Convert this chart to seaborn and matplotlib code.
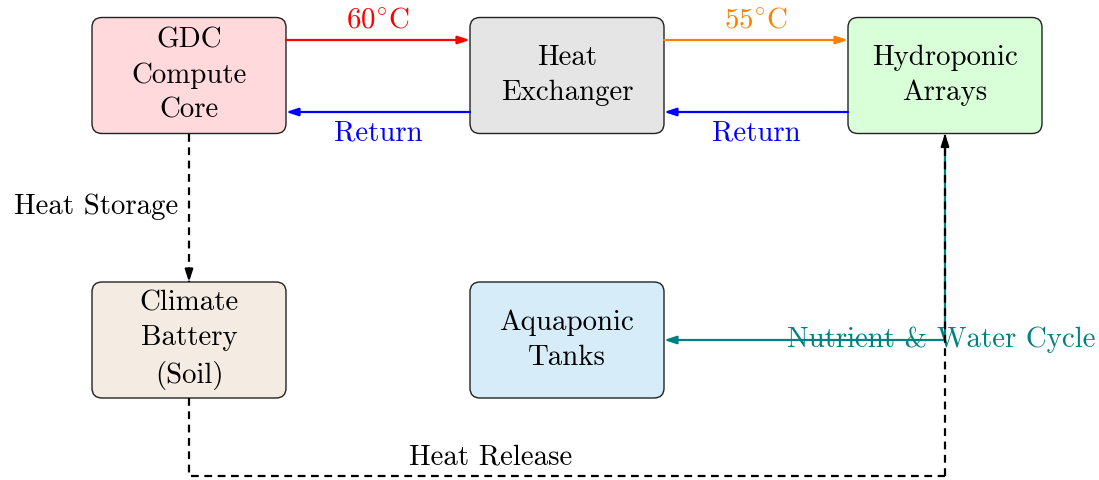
import matplotlib.pyplot as plt
import seaborn as sns
from matplotlib.patches import FancyBboxPatch

# node data
node_labels = ['GDC\nCompute\nCore', 'Heat\nExchanger', 'Hydroponic\nArrays',
               'Climate\nBattery\n(Soil)', 'Aquaponic\nTanks']
node_colors = ['#ffd9db', '#e5e5e5', '#d9ffd9', '#f4ece2', '#d6ecf8']

# edge labels
flow_labels = ['60$^{\\circ}$C', '55$^{\\circ}$C', 'Return', 'Return',
               'Heat Storage', 'Heat Release', 'Nutrient & Water Cycle']
flow_colors = ['#ff0000', '#ff8000', '#0000ff', '#0000ff', 'black', 'black', '#008080']

# layout (pixel coordinates, y down)
node_x = [189, 567, 945, 189, 567]
node_y = [75.5, 75.5, 75.5, 340, 340]
box_w, box_h = 194, 116

sns.set_theme(style='white')
plt.rcParams['font.family'] = ['cmr10', 'DejaVu Serif']
plt.rcParams['mathtext.fontset'] = 'cm'
plt.rcParams['axes.formatter.use_mathtext'] = True
plt.rcParams['text.color'] = 'black'

fig = plt.figure(figsize=(10.99, 4.80), dpi=100)
ax = fig.add_axes([0, 0, 1, 1])
ax.set_xlim(0, 1099)
ax.set_ylim(480, 0)
ax.axis('off')

fs = 20.8

for label, color, cx, cy in zip(node_labels, node_colors, node_x, node_y):
    box = FancyBboxPatch((cx - box_w / 2, cy - box_h / 2), box_w, box_h,
                         boxstyle='round,pad=0,rounding_size=10',
                         fc=color, ec='#222222', lw=1.0, zorder=2)
    ax.add_patch(box)
    ax.text(cx, cy, label, ha='center', va='center', fontsize=fs,
            linespacing=1.42, zorder=3)


def arrow(p0, p1, color, ls='-'):
    if ls == '-':
        ax.annotate('', xy=p1, xytext=p0, zorder=5,
                    arrowprops=dict(arrowstyle='-|>,head_length=0.55,head_width=0.18',
                                    color=color, lw=1.6, shrinkA=0, shrinkB=0,
                                    mutation_scale=13))
    else:
        ax.plot([p0[0], p1[0]], [p0[1], p1[1]], color=color, lw=1.6,
                ls=(0, (3.5, 2.5)), zorder=5, solid_capstyle='butt')
        dx = p1[0] - p0[0]
        dy = p1[1] - p0[1]
        n = (dx ** 2 + dy ** 2) ** 0.5
        start = (p1[0] - dx / n * 10, p1[1] - dy / n * 10)
        arrow(start, p1, color)


left = [x - box_w / 2 for x in node_x]
right = [x + box_w / 2 for x in node_x]
top = [y - box_h / 2 for y in node_y]
bottom = [y + box_h / 2 for y in node_y]

# hot supply lines
arrow((right[0], 40), (left[1], 40), flow_colors[0])
arrow((right[1], 40), (left[2], 40), flow_colors[1])
ax.text((right[0] + left[1]) / 2, 20, flow_labels[0], color=flow_colors[0],
        ha='center', va='center', fontsize=fs)
ax.text((right[1] + left[2]) / 2, 20, flow_labels[1], color=flow_colors[1],
        ha='center', va='center', fontsize=fs)

# return lines
arrow((left[1], 112), (right[0], 112), flow_colors[2])
arrow((left[2], 112), (right[1], 112), flow_colors[3])
ax.text((right[0] + left[1]) / 2, 133, flow_labels[2], color=flow_colors[2],
        ha='center', va='center', fontsize=fs)
ax.text((right[1] + left[2]) / 2, 133, flow_labels[3], color=flow_colors[3],
        ha='center', va='center', fontsize=fs)

# nutrient cycle (teal)
ax.plot([node_x[2], node_x[2]], [node_y[4], bottom[2] + 8], color=flow_colors[6],
        lw=1.6, zorder=4)
arrow((node_x[2], node_y[4]), (right[4], node_y[4]), flow_colors[6])
ax.text(941, node_y[4], flow_labels[6], color=flow_colors[6], ha='center',
        va='center', fontsize=fs, zorder=1)

# heat storage (dashed)
arrow((node_x[0], bottom[0]), (node_x[0], top[3]), flow_colors[4], ls='--')
ax.text(178, 207, flow_labels[4], ha='right', va='center', fontsize=fs)

# heat release (dashed, routed below)
ax.plot([node_x[3], node_x[3], node_x[2]], [bottom[3], 476, 476],
        color='black', lw=1.6, ls=(0, (3.5, 2.5)), zorder=5)
arrow((node_x[2], 476), (node_x[2], bottom[2]), flow_colors[5], ls='--')
ax.text(491, 457, flow_labels[5], ha='center', va='center', fontsize=fs)

fig.savefig('out.png', dpi=100)
